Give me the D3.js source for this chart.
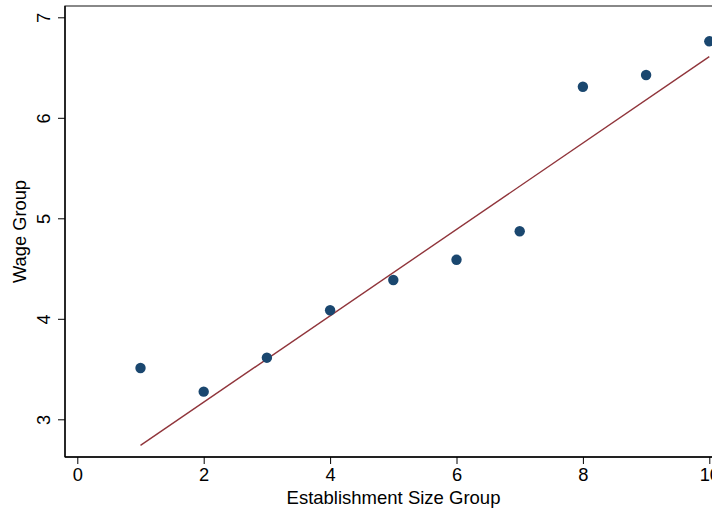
<!DOCTYPE html>
<html>
<head>
<meta charset="utf-8">
<script src="https://cdn.jsdelivr.net/npm/d3@7"></script>
<style>
  html, body { margin: 0; padding: 0; background: #fff; }
  svg { display: block; font-family: "Liberation Sans", Arial, sans-serif; }
</style>
</head>
<body>
<svg id="chart" width="712" height="510"></svg>
<script>
// Mean wage group by establishment size group
const sizeGroups = [1, 2, 3, 4, 5, 6, 7, 8, 9, 10];
const wageGroups = [3.51, 3.275, 3.613, 4.085, 4.386, 4.588, 4.871, 6.309, 6.426, 6.761];

// Fitted line endpoints [x, y]
const fitStart = [1, 2.741];
const fitEnd = [10, 6.608];

const xTicks = [0, 2, 4, 6, 8, 10];
const yTicks = [3, 4, 5, 6, 7];
const xTitle = "Establishment Size Group";
const yTitle = "Wage Group";

const svg = d3.select("#chart");
const plot = { left: 65, top: 6, right: 722, bottom: 457 };

const x = d3.scaleLinear().domain([0, 10]).range([77.3, 709.3]);
const y = d3.scaleLinear().domain([3, 7]).range([419.3, 17.3]);

// plot region frame
svg.append("rect")
  .attr("x", plot.left).attr("y", plot.top)
  .attr("width", plot.right - plot.left).attr("height", plot.bottom - plot.top)
  .attr("fill", "#fff").attr("stroke", "#3a3a3a").attr("stroke-width", 1.2);

// axes
const xAxis = svg.append("g")
  .attr("transform", `translate(0,${plot.bottom})`)
  .call(d3.axisBottom(x).tickValues(xTicks).tickSize(7).tickPadding(4).tickFormat(d3.format("d")));
xAxis.select(".domain").attr("d", `M${plot.left},0H${plot.right}`).attr("stroke", "#000").attr("stroke-width", 1.4);
xAxis.selectAll(".tick line").attr("stroke", "#000").attr("stroke-width", 1);
xAxis.selectAll(".tick text").attr("font-size", 18.3).attr("fill", "#000")
  .attr("font-family", "Liberation Sans, Arial, sans-serif");

const yAxis = svg.append("g")
  .attr("transform", `translate(${plot.left},0)`)
  .call(d3.axisLeft(y).tickValues(yTicks).tickSize(7).tickPadding(0).tickFormat(d3.format("d")));
yAxis.select(".domain").attr("d", `M0,${plot.top}V${plot.bottom}`).attr("stroke", "#000").attr("stroke-width", 1.4);
yAxis.selectAll(".tick line").attr("stroke", "#000").attr("stroke-width", 1);
yAxis.selectAll(".tick text")
  .attr("font-size", 18.3).attr("fill", "#000")
  .attr("font-family", "Liberation Sans, Arial, sans-serif")
  .attr("x", null).attr("dy", null)
  .attr("text-anchor", "middle")
  .attr("transform", "translate(-15,0) rotate(-90)");

// fitted line
svg.append("line")
  .attr("x1", x(fitStart[0])).attr("y1", y(fitStart[1]))
  .attr("x2", x(fitEnd[0])).attr("y2", y(fitEnd[1]))
  .attr("stroke", "#90353b").attr("stroke-width", 1.4);

// points
svg.append("g").selectAll("circle")
  .data(sizeGroups.map((s, i) => [s, wageGroups[i]]))
  .join("circle")
  .attr("cx", d => x(d[0])).attr("cy", d => y(d[1]))
  .attr("r", 5.2).attr("fill", "#1a476f");

// axis titles
svg.append("text")
  .attr("x", (plot.left + plot.right) / 2).attr("y", 503.5)
  .attr("text-anchor", "middle").attr("font-size", 18.5).attr("fill", "#000")
  .text(xTitle);

svg.append("text")
  .attr("transform", `translate(26,${(plot.top + plot.bottom) / 2}) rotate(-90)`)
  .attr("text-anchor", "middle").attr("font-size", 18.3).attr("fill", "#000")
  .text(yTitle);
</script>
</body>
</html>
